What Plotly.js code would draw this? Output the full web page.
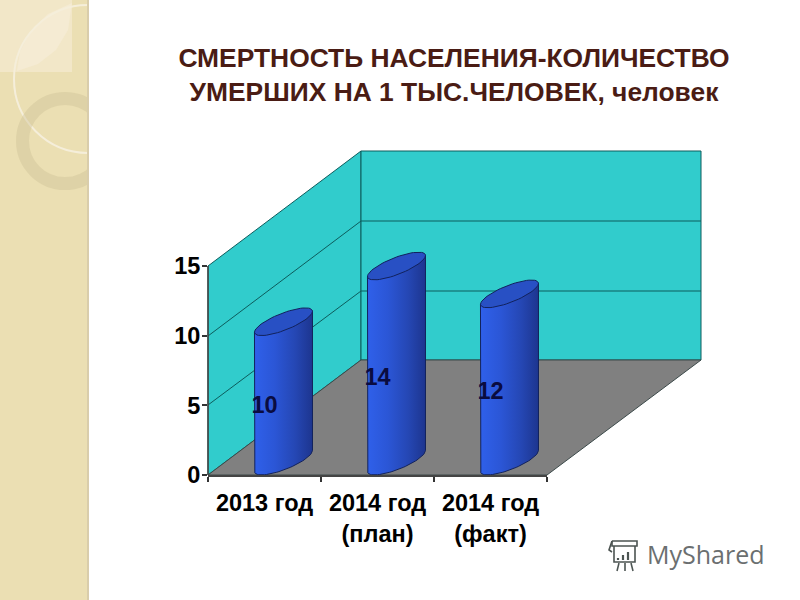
<!DOCTYPE html>
<html>
<head>
<meta charset="utf-8">
<script src="https://cdn.plot.ly/plotly-3.0.1.min.js"></script>
<style>html,body{margin:0;padding:0;background:#fff}</style>
</head>
<body>
<div id="chart" style="width:800px;height:600px"></div>
<script>
const categories = ['2013 год', '2014 год<br>(план)', '2014 год<br>(факт)'];
const values = [10, 14, 12];
const yTicks = [0, 5, 10, 15];

const W = 800, H = 600;
// plot box is taller than the axis (15 at y=266) so the cylinder tops are not clipped
const plotBox = {l: 208, r: 547, t: 226, b: 475};
const unitY = (475 - 266) / 15;
const yMax = (plotBox.b - plotBox.t) / unitY;
const px = x => (x - plotBox.l) / (plotBox.r - plotBox.l);
const py = y => (plotBox.b - y) / (plotBox.b - plotBox.t);
const pathOf = pts => 'M' + pts.map(p => px(p[0]) + ',' + py(p[1])).join('L') + 'Z';
const linePath = pts => 'M' + pts.map(p => px(p[0]) + ',' + py(p[1])).join('L');
const paper = {xref: 'paper', yref: 'paper', layer: 'below'};
const poly = (pts, fill, line) => Object.assign({type: 'path', path: pathOf(pts), fillcolor: fill,
  line: line ? {color: line, width: 1} : {width: 0}}, paper);
const stroke = (pts, color, width) => Object.assign({type: 'path', path: linePath(pts),
  line: {color: color, width: width || 1}}, paper);
const circle = (cx, cy, r, color, width, fill) => Object.assign({type: 'circle',
  x0: px(cx - r), x1: px(cx + r), y0: py(cy + r), y1: py(cy - r),
  fillcolor: fill || 'rgba(0,0,0,0)', line: {color: color, width: width}}, paper);

const edge = '#0d5c5c';
const shapes = [
  // side panel
  poly([[0,0],[88,0],[88,600],[0,600]], '#ebdfb3'),
  poly([[0,0],[72,0],[72,72],[0,72]], '#f2e7c8'),
  poly([[72,3],[68,30],[56,50],[38,64],[17,71],[20,52],[30,32],[48,14]], '#f5ebd3'),
  circle(88, 79, 74, '#f5eeda', 2),
  circle(65, 141, 42.5, 'rgba(205,192,150,0.42)', 13),
  // clean page to the right of the panel
  poly([[88,0],[800,0],[800,600],[88,600]], '#ffffff'),
  poly([[87,0],[89,0],[89,600],[87,600]], '#d9cdab'),
  // 3D chart box
  poly([[208,266],[361,151],[361,360],[208,475]], '#31cccc', edge),
  poly([[361,151],[701,151],[701,360],[361,360]], '#31cccc', edge),
  poly([[208,475],[361,360],[701,360],[547,475]], '#808080', '#3c4a4a'),
  stroke([[208,336],[361,221],[701,221]], edge),
  stroke([[208,405],[361,291],[701,291]], edge),
  stroke([[208,266],[208,475]], '#444', 1.5),
  // watermark icon
  stroke([[612,541],[637,541],[637,546],[612,546],[612,541]], '#4c5452', 1.6),
  stroke([[612,541],[609,550],[612,552]], '#4c5452', 1.6),
  stroke([[614,546],[614,562],[635,562],[635,546]], '#4c5452', 1.6),
  stroke([[618,560],[618,558]], '#4c5452', 2.2),
  stroke([[623,560],[623,555]], '#4c5452', 2.2),
  stroke([[628,560],[628,552]], '#4c5452', 2.2),
  stroke([[619,563],[617,571]], '#4c5452', 1.6),
  stroke([[625,563],[625,571]], '#4c5452', 1.6),
  stroke([[631,563],[633,571]], '#4c5452', 1.6)
];

// Cylinder geometry relative to the chart scales
const perCat = (plotBox.r - plotBox.l) / 3;
const shift = 0.168, depth = 1;
const rim = (c, level, t) => [
  c + shift + 29 * Math.cos(t) / perCat,
  level + depth + (10.5 * Math.cos(t) - 9 * Math.sin(t)) / unitY
];
const steps = n => Array.from({length: n + 1}, (_, k) => k / n);

const barColors = [[0,'#2f60ea'],[0.35,'#2b56d6'],[0.7,'#2547b4'],[1,'#1d358f']];
const traces = [{
  type: 'bar', x: categories, y: values, base: depth, width: 0.3, offset: shift - 0.15,
  marker: {color: '#2b56d6', line: {width: 0}}, hoverinfo: 'skip'
}];
values.forEach((v, i) => {
  const lower = steps(40).map(f => rim(i, 0, Math.PI * (1 - f)));
  const rEnd = rim(i, v, 0), lEnd = rim(i, v, Math.PI);
  const body = [lEnd].concat(lower, [rEnd, lEnd]);
  traces.push({
    type: 'scatter', xaxis: 'x2', mode: 'lines', cliponaxis: false, hoverinfo: 'skip',
    x: body.map(p => p[0]), y: body.map(p => p[1]), fill: 'toself',
    fillgradient: {type: 'horizontal', colorscale: barColors},
    line: {color: '#12225c', width: 1}
  });
  const top = steps(60).map(f => rim(i, v, 2 * Math.PI * f));
  traces.push({
    type: 'scatter', xaxis: 'x2', mode: 'lines', cliponaxis: false, hoverinfo: 'skip',
    x: top.map(p => p[0]), y: top.map(p => p[1]), fill: 'toself', fillcolor: '#2850c4',
    line: {color: '#12225c', width: 1}
  });
});
traces.push({
  type: 'scatter', xaxis: 'x2', mode: 'text', cliponaxis: false, hoverinfo: 'skip',
  x: values.map((_, i) => i), y: values.map(v => v / 2 - 0.15),
  text: values.map(String), textposition: 'middle center',
  textfont: {family: 'Liberation Sans', size: 23.5, color: '#0a0c40', weight: 700}
});

const axisFont = {family: 'Liberation Sans', size: 23.5, color: '#000', weight: 700};
const layout = {
  width: W, height: H, autosize: false, showlegend: false,
  paper_bgcolor: '#fff', plot_bgcolor: 'rgba(0,0,0,0)',
  margin: {l: plotBox.l, r: W - plotBox.r, t: plotBox.t, b: H - plotBox.b, pad: 0},
  title: {
    text: 'СМЕРТНОСТЬ НАСЕЛЕНИЯ-КОЛИЧЕСТВО<br>УМЕРШИХ НА 1 ТЫС.ЧЕЛОВЕК, человек',
    font: {family: 'Liberation Sans', size: 26.4, color: '#4a1c14', weight: 700},
    xref: 'container', yref: 'container', x: 454 / W, xanchor: 'center',
    y: 1 - 67 / H, yanchor: 'top'
  },
  xaxis: {
    type: 'category', range: [-0.5, 2.5], tickson: 'boundaries', ticks: 'outside', ticklen: 5,
    tickcolor: '#333', tickwidth: 1.5, showline: true, linecolor: '#444', linewidth: 1.5,
    showgrid: false, zeroline: false, tickfont: axisFont, tickangle: 0, fixedrange: true,
    ticklabelstandoff: 6
  },
  xaxis2: {overlaying: 'x', range: [-0.5, 2.5], visible: false, fixedrange: true},
  yaxis: {
    range: [0, yMax], tickvals: yTicks, ticks: 'outside', ticklen: 5, tickcolor: '#333', tickwidth: 1.5,
    showline: false, showgrid: false, zeroline: false,
    tickfont: axisFont, fixedrange: true, ticklabelstandoff: -3
  },
  shapes: shapes,
  annotations: [{
    xref: 'paper', yref: 'paper', x: px(645), y: py(554), xanchor: 'left', yanchor: 'middle',
    text: 'MyShared', showarrow: false,
    font: {family: 'Open Sans', size: 25, color: '#6b6f70'}
  }]
};
Plotly.newPlot('chart', traces, layout, {displayModeBar: false, responsive: false});
</script>
</body>
</html>
